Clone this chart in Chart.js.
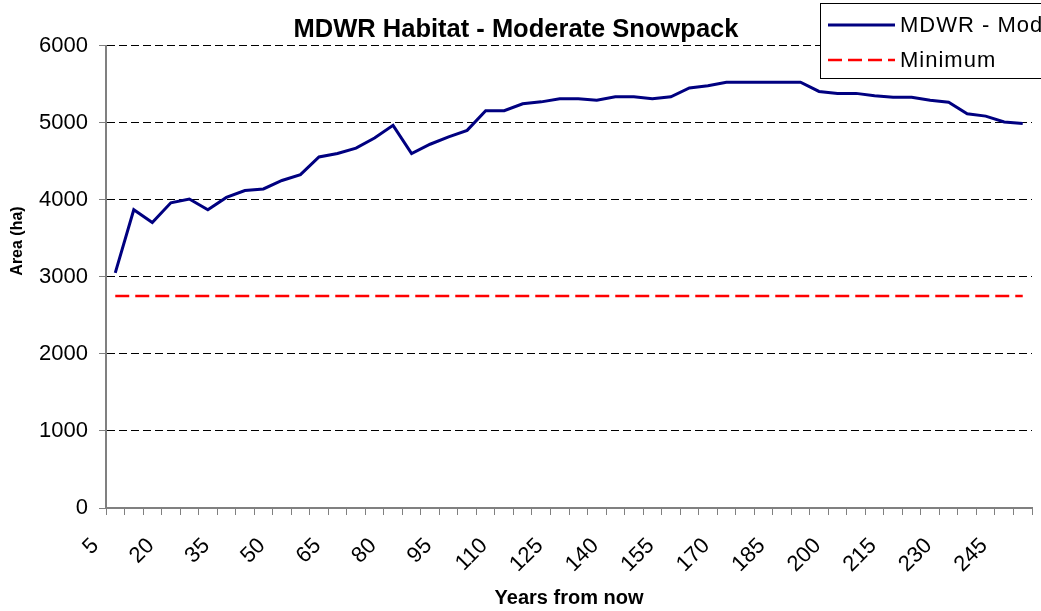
<!DOCTYPE html>
<html>
<head>
<meta charset="utf-8">
<script src="https://cdn.jsdelivr.net/npm/chart.js@4/dist/chart.umd.min.js"></script>
<style>
    html, body { margin: 0; padding: 0; background: #fff; overflow: hidden; }
    #wrap { position: relative; width: 1041px; height: 611px; }
</style>
</head>
<body>
<div id="wrap"><canvas id="habitatChart"></canvas></div>
<script>

/* DATA */

const years = [
    5, 10, 15, 20, 25, 30, 35, 40, 45, 50,
    55, 60, 65, 70, 75, 80, 85, 90, 95, 100,
    105, 110, 115, 120, 125, 130, 135, 140, 145, 150,
    155, 160, 165, 170, 175, 180, 185, 190, 195, 200,
    205, 210, 215, 220, 225, 230, 235, 240, 245, 250
];

const habitatModerate = [
    3050, 3870, 3705, 3960, 4010, 3870, 4030, 4120, 4140, 4250,
    4325, 4555, 4600, 4670, 4800, 4965, 4600, 4720, 4815, 4900,
    5155, 5155, 5245, 5270, 5310, 5310, 5290, 5335, 5335, 5310,
    5335, 5450, 5480, 5525, 5525, 5525, 5525, 5525, 5405, 5380,
    5380, 5350, 5330, 5330, 5290, 5265, 5115, 5085, 5010, 4990
];

const minimumArea = [
    2750, 2750, 2750, 2750, 2750, 2750, 2750, 2750, 2750, 2750,
    2750, 2750, 2750, 2750, 2750, 2750, 2750, 2750, 2750, 2750,
    2750, 2750, 2750, 2750, 2750, 2750, 2750, 2750, 2750, 2750,
    2750, 2750, 2750, 2750, 2750, 2750, 2750, 2750, 2750, 2750,
    2750, 2750, 2750, 2750, 2750, 2750, 2750, 2750, 2750, 2750
];

const yTicks = [0, 1000, 2000, 3000, 4000, 5000, 6000];

const FONT = '"Liberation Sans", Arial, sans-serif';
Chart.defaults.font.family = FONT;
Chart.defaults.color = "#000";


/* y title + legend box, drawn on top */

const extras = {

    id: "extras",

    afterDraw(chart) {

        const ctx = chart.ctx;

        ctx.save();
        ctx.translate(18, 241);
        ctx.rotate(-Math.PI / 2);
        ctx.font = "bold 16px " + FONT;
        ctx.fillStyle = "#000";
        ctx.textAlign = "center";
        ctx.textBaseline = "middle";
        ctx.fillText("Area (ha)", 0, 0);
        ctx.restore();

        // legend
        ctx.save();
        ctx.fillStyle = "#fff";
        ctx.fillRect(820, 3, 300, 75);
        ctx.strokeStyle = "#000";
        ctx.lineWidth = 1;
        ctx.strokeRect(820.5, 3.5, 300, 75);

        const rows = [25, 60];

        chart.data.datasets.forEach((ds, i) => {
            const y = rows[i];
            ctx.beginPath();
            ctx.strokeStyle = ds.borderColor;
            ctx.lineWidth = ds.borderWidth;
            ctx.setLineDash(ds.borderDash || []);
            ctx.moveTo(828, y);
            ctx.lineTo(895, y);
            ctx.stroke();
            ctx.setLineDash([]);

            ctx.font = "22px " + FONT;
            ctx.letterSpacing = "1px";
            ctx.fillStyle = "#000";
            ctx.textAlign = "left";
            ctx.textBaseline = "middle";
            ctx.fillText(ds.label, 900, y + 1);
        });

        ctx.restore();
    }
};


/* CHART */

const ctx = document.getElementById("habitatChart");

new Chart(ctx, {

    type: "line",

    data: {
        labels: years,
        datasets: [
            {
                label: "MDWR - Moderate",
                data: habitatModerate,
                borderColor: "#000080",
                borderWidth: 3,
                pointRadius: 0,
                tension: 0,
                fill: false
            },
            {
                label: "Minimum",
                data: minimumArea,
                borderColor: "#ff0000",
                borderWidth: 2.5,
                borderDash: [14, 6],
                pointRadius: 0,
                tension: 0,
                fill: false
            }
        ]
    },

    options: {

        responsive: true,
        maintainAspectRatio: false,
        animation: false,

        layout: {
            padding: { left: 0, right: 9, top: 0, bottom: 0 }
        },

        plugins: {
            legend: { display: false },
            tooltip: { enabled: false },
            title: {
                display: true,
                text: "MDWR Habitat - Moderate Snowpack",
                font: { size: 25.5, weight: "bold" },
                color: "#000",
                padding: { top: 15, bottom: 0 }
            }
        },

        scales: {

            x: {
                offset: true,
                grid: {
                    offset: true,
                    drawOnChartArea: false,
                    drawTicks: true,
                    tickLength: 7,
                    tickColor: "#808080",
                    tickWidth: 1
                },
                border: { color: "#808080", width: 2 },
                ticks: {
                    autoSkip: false,
                    minRotation: 45,
                    maxRotation: 45,
                    labelOffset: -20,
                    padding: 18,
                    font: { size: 22 },
                    color: "#000",
                    callback: (v, i) => (i % 3 === 0 ? years[i] : "")
                },
                title: {
                    display: true,
                    text: "Years from now",
                    font: { size: 20, weight: "bold" },
                    color: "#000",
                    padding: { top: 0, bottom: 1 }
                },
                afterFit: scale => {
                    scale.height = 103;
                    scale.paddingLeft = 0;
                    scale.paddingRight = 0;
                }
            },

            y: {
                min: yTicks[0],
                max: yTicks[yTicks.length - 1],
                afterBuildTicks: scale => {
                    scale.ticks = yTicks.map(v => ({ value: v }));
                },
                grid: {
                    color: "#000",
                    lineWidth: 1,
                    drawTicks: true,
                    tickLength: 7,
                    tickColor: "#808080",
                    tickWidth: 1
                },
                border: { color: "#808080", width: 2, dash: [8, 4] },
                ticks: {
                    padding: 11,
                    font: { size: 22 },
                    color: "#000",
                    callback: v => String(v)
                },
                afterFit: scale => {
                    scale.width = 106;
                    scale.paddingTop = 0;
                    scale.paddingBottom = 0;
                }
            }

        }

    },

    plugins: [extras]

});

</script>
</body>
</html>
